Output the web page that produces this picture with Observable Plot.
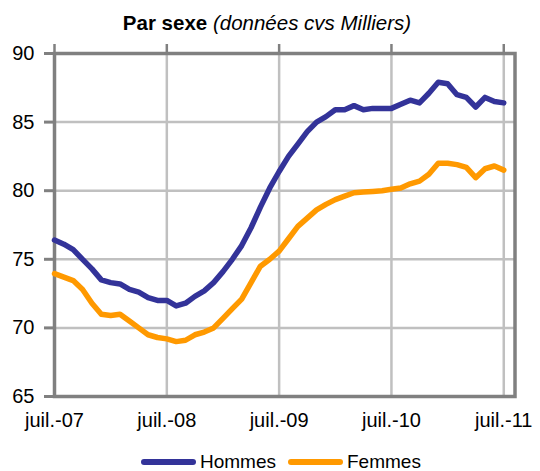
<!DOCTYPE html>
<html>
<head>
<meta charset="utf-8">
<script src="https://cdn.jsdelivr.net/npm/d3@7"></script>
<script src="https://cdn.jsdelivr.net/npm/@observablehq/plot@0.6"></script>
<style>
  html, body { margin: 0; padding: 0; background: #fff; }
  body { width: 540px; height: 471px; overflow: hidden; font-family: "Liberation Sans", Arial, sans-serif; color: #000; }
  #title { height: 40px; box-sizing: border-box; padding-top: 13px; padding-right: 6px; text-align: center; font-size: 20.5px; line-height: 20px; white-space: nowrap; }
  #title b { font-weight: bold; }
  #title i { font-style: italic; }
  #chart { height: 400px; }
  #legend { height: 31px; position: relative; font-size: 19px; }
  .lg { position: absolute; top: 12px; display: flex; align-items: center; line-height: 20px; }
  .sw { width: 55px; height: 6px; border-radius: 3px; margin-right: 4px; }
</style>
</head>
<body>
<div id="title"><b>Par sexe</b> <i>(données cvs Milliers)</i></div>
<div id="chart"></div>
<div id="legend"></div>
<script>
// Series names and colours
const seriesNames = ["Hommes", "Femmes"];
const seriesColors = ["#333399", "#FF9900"];

// Monthly values, juil.-07 to juil.-11 (thousands, seasonally adjusted)
const hommes = [
  76.4, 76.1, 75.7, 75.0, 74.3, 73.5, 73.3, 73.2, 72.8, 72.6, 72.2, 72.0,
  72.0, 71.6, 71.8, 72.3, 72.7, 73.3, 74.1, 75.0, 76.0, 77.3, 78.8, 80.2,
  81.4, 82.5, 83.4, 84.3, 85.0, 85.4, 85.9, 85.9, 86.2, 85.9, 86.0, 86.0,
  86.0, 86.3, 86.6, 86.4, 87.1, 87.9, 87.8, 87.0, 86.8, 86.1, 86.8, 86.5,
  86.4
];
const femmes = [
  73.95, 73.7, 73.45, 72.8, 71.8, 71.0, 70.9, 71.0, 70.5, 70.0, 69.5, 69.3,
  69.2, 69.0, 69.1, 69.5, 69.7, 70.0, 70.7, 71.4, 72.1, 73.3, 74.5, 75.0,
  75.6, 76.5, 77.4, 78.0, 78.6, 79.0, 79.35, 79.6, 79.85, 79.9, 79.95, 80.0,
  80.1, 80.2, 80.5, 80.7, 81.2, 82.0, 82.0, 81.9, 81.7, 80.95, 81.6, 81.8,
  81.5
];

// Axis ticks
const xTicks = [0, 12, 24, 36, 48];
const xLabels = ["juil.-07", "juil.-08", "juil.-09", "juil.-10", "juil.-11"];
const yTicks = [65, 70, 75, 80, 85, 90];

const rows = [];
hommes.forEach((v, i) => rows.push({m: i, value: v, serie: seriesNames[0]}));
femmes.forEach((v, i) => rows.push({m: i, value: v, serie: seriesNames[1]}));

const dark = "#808080";
const light = "#c0c0c0";

const chart = Plot.plot({
  width: 540,
  height: 400,
  marginTop: 13,
  marginBottom: 44,
  marginLeft: 54,
  marginRight: 25.5,
  style: {fontFamily: "'Liberation Sans', Arial, sans-serif", fontSize: "20px", color: "#000", background: "#fff"},
  x: {domain: [0, 49.2]},
  y: {domain: [65, 90]},
  color: {domain: seriesNames, range: seriesColors},
  marks: [
    Plot.gridY(yTicks, {stroke: light, strokeOpacity: 1, strokeWidth: 2.5}),
    Plot.gridX(xTicks, {stroke: light, strokeOpacity: 1, strokeWidth: 2.5}),
    Plot.frame({stroke: dark, strokeWidth: 3.5}),
    Plot.axisY(yTicks, {tickSize: 10, tickPadding: 10, stroke: dark, strokeWidth: 3, fontSize: 20, label: null}),
    Plot.axisX(xTicks, {anchor: "top", tickSize: 10, tickFormat: () => "", stroke: dark, strokeWidth: 2.5, label: null}),
    Plot.axisX(xTicks, {anchor: "bottom", tickSize: 0, tickPadding: 16, tickFormat: d => xLabels[xTicks.indexOf(d)], fontSize: 20, label: null}),
    Plot.lineY(rows, {x: "m", y: "value", z: "serie", stroke: "serie", strokeWidth: 5.5, strokeLinejoin: "round", strokeLinecap: "round"})
  ]
});
document.getElementById("chart").appendChild(chart);

// Legend
const legend = document.getElementById("legend");
const lgLeft = [141, 288];
seriesNames.forEach((name, i) => {
  const item = document.createElement("div");
  item.className = "lg";
  item.style.left = lgLeft[i] + "px";
  const sw = document.createElement("div");
  sw.className = "sw";
  sw.style.background = seriesColors[i];
  item.appendChild(sw);
  const t = document.createElement("span");
  t.textContent = name;
  item.appendChild(t);
  legend.appendChild(item);
});
</script>
</body>
</html>
